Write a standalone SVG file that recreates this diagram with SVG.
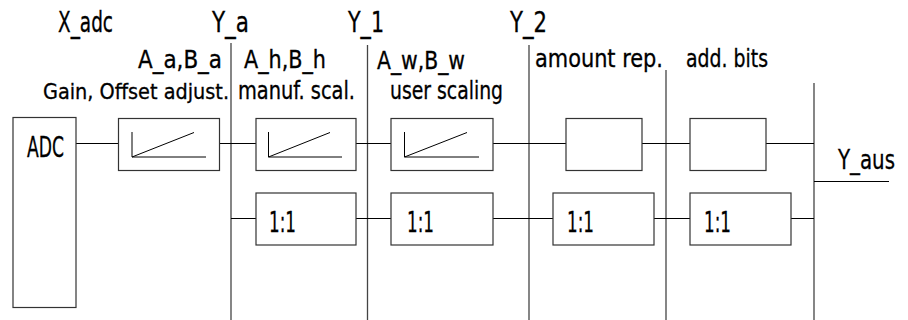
<svg xmlns="http://www.w3.org/2000/svg" width="908" height="320" viewBox="0 0 908 320">
<style>
text{font-family:"Liberation Sans Narrow","DejaVu Sans Condensed","Liberation Sans",sans-serif;fill:#000;stroke:#000;stroke-width:0.3}
.t1{font-size:28px}
.t2{font-size:24px}
.t3{font-size:29px}
.t4{font-size:27px}
.t5{font-size:22px}
.box{fill:#fff;stroke:#333;stroke-width:1.2}
.c{stroke:#000;stroke-width:1;fill:none}
.bus{stroke:#444;stroke-width:1.3;fill:none}
.ramp{stroke:#000;stroke-width:1;fill:none}
</style>
<rect width="908" height="320" fill="#fff"/>
<g id="connectors">
<line class="bus" x1="231" y1="43" x2="231" y2="320"/>
<line class="bus" x1="367.5" y1="45" x2="367.5" y2="320"/>
<line class="bus" x1="529" y1="45" x2="529" y2="320"/>
<line class="bus" x1="666" y1="70" x2="666" y2="320"/>
<line class="bus" x1="814" y1="83" x2="814" y2="320"/>
<line class="c" x1="76" y1="143.5" x2="118" y2="143.5"/>
<line class="c" x1="220" y1="143.5" x2="256" y2="143.5"/>
<line class="c" x1="356" y1="143.5" x2="391" y2="143.5"/>
<line class="c" x1="493" y1="143.5" x2="566" y2="143.5"/>
<line class="c" x1="642" y1="143.5" x2="690" y2="143.5"/>
<line class="c" x1="766" y1="143.5" x2="814" y2="143.5"/>
<line class="c" x1="231" y1="218.5" x2="256" y2="218.5"/>
<line class="c" x1="356" y1="218.5" x2="391" y2="218.5"/>
<line class="c" x1="493" y1="218.5" x2="553" y2="218.5"/>
<line class="c" x1="654" y1="218.5" x2="690" y2="218.5"/>
<line class="c" x1="791" y1="218.5" x2="814" y2="218.5"/>
<line class="c" x1="814" y1="181.5" x2="889" y2="181.5"/>
</g>
<g id="labels">
<text class="t1" x="58" y="32" textLength="55" lengthAdjust="spacingAndGlyphs">X_adc</text>
<text class="t1" x="212" y="32" textLength="37" lengthAdjust="spacingAndGlyphs">Y_a</text>
<text class="t1" x="348" y="32" textLength="36" lengthAdjust="spacingAndGlyphs">Y_1</text>
<text class="t1" x="510" y="32" textLength="37" lengthAdjust="spacingAndGlyphs">Y_2</text>
<text class="t2" x="138" y="68" textLength="84" lengthAdjust="spacingAndGlyphs">A_a,B_a</text>
<text class="t2" x="244" y="68" textLength="82" lengthAdjust="spacingAndGlyphs">A_h,B_h</text>
<text class="t2" x="377" y="69" textLength="88" lengthAdjust="spacingAndGlyphs">A_w,B_w</text>
<text class="t2" x="535" y="67" textLength="128" lengthAdjust="spacingAndGlyphs">amount rep.</text>
<text class="t2" x="686" y="67" textLength="82" lengthAdjust="spacingAndGlyphs">add. bits</text>
<text class="t5" x="43" y="99" textLength="186" lengthAdjust="spacingAndGlyphs">Gain, Offset adjust.</text>
<text class="t2" x="238" y="99" textLength="117" lengthAdjust="spacingAndGlyphs">manuf. scal.</text>
<text class="t2" x="390" y="99" textLength="113" lengthAdjust="spacingAndGlyphs">user scaling</text>
<text class="t4" x="838" y="169" textLength="57" lengthAdjust="spacingAndGlyphs">Y_aus</text>
</g>
<g id="adc">
<rect class="box" x="13" y="117.5" width="63" height="190"/>
<text class="t3" x="27" y="157" textLength="37" lengthAdjust="spacingAndGlyphs">ADC</text>
</g>
<g id="gain">
<rect class="box" x="118.5" y="118.5" width="101" height="52"/>
<polyline class="ramp" points="132,132 132,157 206,157"/>
<line class="ramp" x1="132" y1="157" x2="194" y2="132.5"/>
</g>
<g id="manuf">
<rect class="box" x="256" y="118.5" width="100" height="52"/>
<polyline class="ramp" points="268.5,132 268.5,157 342,157"/>
<line class="ramp" x1="268.5" y1="157" x2="330" y2="132.5"/>
</g>
<g id="manuf_11">
<rect class="box" x="256" y="193" width="100" height="52"/>
<text class="t3" x="269" y="232" textLength="27" lengthAdjust="spacingAndGlyphs">1:1</text>
</g>
<g id="user">
<rect class="box" x="391" y="118.5" width="102" height="52"/>
<polyline class="ramp" points="404.5,132 404.5,157 479,157"/>
<line class="ramp" x1="404.5" y1="157" x2="467" y2="132.5"/>
</g>
<g id="user_11">
<rect class="box" x="391" y="193" width="102" height="52"/>
<text class="t3" x="407" y="232" textLength="27" lengthAdjust="spacingAndGlyphs">1:1</text>
</g>
<g id="amount">
<rect class="box" x="566" y="118.5" width="76" height="52"/>
</g>
<g id="amount_11">
<rect class="box" x="553" y="193" width="101" height="52"/>
<text class="t3" x="567" y="232" textLength="27" lengthAdjust="spacingAndGlyphs">1:1</text>
</g>
<g id="bits">
<rect class="box" x="690" y="118.5" width="76" height="52"/>
</g>
<g id="bits_11">
<rect class="box" x="690" y="193" width="101" height="52"/>
<text class="t3" x="704" y="232" textLength="27" lengthAdjust="spacingAndGlyphs">1:1</text>
</g>
</svg>
